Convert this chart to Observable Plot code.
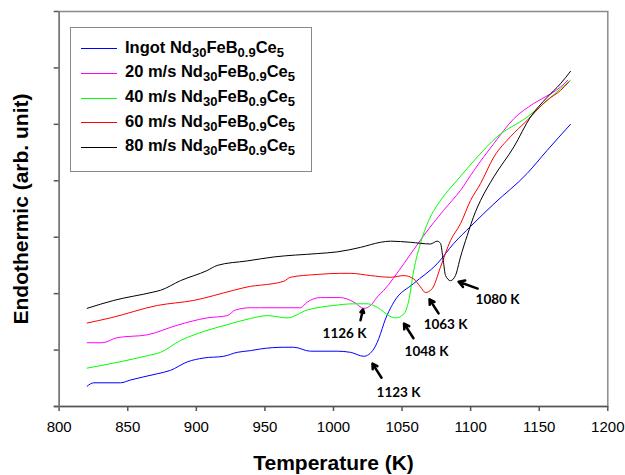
<!DOCTYPE html>
<html>
<head>
<meta charset="utf-8">
<script src="https://cdn.jsdelivr.net/npm/d3@7"></script>
<script src="https://cdn.jsdelivr.net/npm/@observablehq/plot@0.6"></script>
<style>
  body { margin: 0; background: #fff; }
  #wrap { position: relative; width: 625px; height: 475px; }
  #wrap svg { display: block; }
  #legend { position: absolute; left: 70px; top: 27px; width: 240px; height: 143px;
    border: 1px solid #888; background: #fff;
    font-family: "Liberation Sans", Arial, sans-serif; font-weight: bold; font-size: 16.5px; color: #000; }
  .sw { position: absolute; left: 10px; width: 36px; height: 0; border-top: 1px solid; }
  .lb { position: absolute; left: 54px; white-space: nowrap; line-height: 1; }
  .lb span.s { font-size: 13px; position: relative; top: 4px; }
</style>
</head>
<body>
<div id="wrap"><div id="legend"></div></div>
<script>
// ---------- data ----------
const seriesNames = ["Ingot", "20 m/s", "40 m/s", "60 m/s", "80 m/s"];
const seriesColors = ["#0000ff", "#ff00ff", "#00ff00", "#ff0000", "#000000"];

const tempIngot = [820.4, 825.2, 844.7, 852.0, 871.5, 881.1, 893.3, 905.4, 920.0, 929.8, 939.5, 946.8, 963.8, 971.0, 983.2, 1002.7, 1012.4, 1022.1, 1029.4, 1034.3, 1036.7, 1044.0, 1058.5, 1075.6, 1087.7, 1099.9, 1116.9, 1141.2, 1155.8, 1172.8];
const valIngot  = [0.36, 0.42, 0.42, 0.47, 0.58, 0.64, 0.79, 0.86, 0.89, 0.96, 0.99, 1.02, 1.05, 1.05, 0.98, 0.98, 0.96, 0.89, 1.02, 1.29, 1.47, 1.85, 2.18, 2.53, 2.89, 3.19, 3.59, 4.13, 4.54, 5.00];

const temp20 = [820.4, 831.4, 842.3, 864.2, 886.0, 907.9, 922.5, 928.5, 939.5, 946.8, 975.9, 980.8, 990.5, 1005.1, 1014.8, 1022.1, 1027.0, 1031.9, 1036.7, 1051.3, 1065.8, 1080.4, 1092.6, 1102.3, 1116.9, 1131.5, 1146.0, 1158.2, 1165.5, 1170.8];
const val20  = [1.13, 1.13, 1.22, 1.27, 1.44, 1.57, 1.61, 1.71, 1.75, 1.75, 1.75, 1.85, 1.93, 1.93, 1.85, 1.74, 1.79, 1.94, 2.06, 2.53, 3.03, 3.48, 3.83, 4.18, 4.66, 5.10, 5.37, 5.54, 5.66, 5.78];

const temp40 = [820.4, 864.2, 873.9, 888.4, 900.6, 922.5, 939.5, 951.7, 966.2, 980.8, 1000.2, 1014.8, 1024.6, 1034.3, 1039.0, 1045.2, 1051.3, 1054.9, 1058.5, 1063.4, 1069.5, 1078.0, 1090.2, 1104.8, 1119.3, 1141.2, 1153.3, 1165.5, 1172.8];
const val40  = [0.68, 0.90, 0.96, 1.17, 1.29, 1.45, 1.56, 1.61, 1.57, 1.71, 1.79, 1.82, 1.82, 1.72, 1.63, 1.57, 1.64, 1.88, 2.41, 2.89, 3.30, 3.65, 4.01, 4.42, 4.78, 5.13, 5.37, 5.63, 5.78];

const temp60 = [820.4, 837.4, 871.5, 898.1, 927.3, 939.5, 946.8, 963.8, 968.6, 988.1, 1005.1, 1012.4, 1027.0, 1041.6, 1051.3, 1058.5, 1063.4, 1067.1, 1072.0, 1078.0, 1085.3, 1092.6, 1099.9, 1107.2, 1116.9, 1129.0, 1141.2, 1155.8, 1165.5, 1171.6];
const val60  = [1.48, 1.57, 1.79, 1.88, 2.06, 2.13, 2.15, 2.22, 2.29, 2.34, 2.36, 2.36, 2.32, 2.29, 2.32, 2.26, 2.12, 2.02, 2.09, 2.47, 2.94, 3.24, 3.65, 3.95, 4.42, 4.78, 5.07, 5.43, 5.60, 5.75];

const temp80 = [820.4, 839.8, 869.0, 873.9, 888.4, 907.9, 915.2, 937.1, 956.5, 988.1, 1002.7, 1019.7, 1034.3, 1041.6, 1056.1, 1070.7, 1075.6, 1078.0, 1080.0, 1081.7, 1085.3, 1088.9, 1092.6, 1097.5, 1103.5, 1107.2, 1116.9, 1131.5, 1143.6, 1155.8, 1165.5, 1172.8];
const val80  = [1.74, 1.88, 2.03, 2.06, 2.23, 2.41, 2.50, 2.58, 2.65, 2.71, 2.74, 2.82, 2.91, 2.93, 2.91, 2.88, 2.93, 2.89, 2.59, 2.32, 2.23, 2.32, 2.65, 3.03, 3.45, 3.65, 4.07, 4.60, 5.13, 5.48, 5.72, 5.94];

const xTicks = [800, 850, 900, 950, 1000, 1050, 1100, 1150, 1200];
const yTicks = [0, 1, 2, 3, 4, 5, 6, 7];

// annotations: label text, label position, arrow tail -> head
const annLabels = ["1126 K", "1048 K", "1063 K", "1080 K", "1123 K"];
const annX  = [1008.0, 1067.8, 1081.7, 1119.6, 1047.4];
const annY  = [1.29, 0.98, 1.45, 1.90, 0.25];
const arrX1 = [1019.7, 1058.3, 1076.6, 1105.1, 1035.0];
const arrY1 = [1.53, 1.21, 1.65, 2.09, 0.51];
const arrX2 = [1021.5, 1051.4, 1070.0, 1091.2, 1028.4];
const arrY2 = [1.72, 1.47, 1.90, 2.21, 0.76];

const xTitle = "Temperature (K)";
const yTitle = "Endothermic (arb. unit)";

// ---------- build ----------
const temps = [tempIngot, temp20, temp40, temp60, temp80];
const vals = [valIngot, val20, val40, val60, val80];
const series = temps.map((t, i) => t.map((T, j) => ({T, v: vals[i][j]})));
const ann = annLabels.map((label, i) => ({label, x: annX[i], y: annY[i], x1: arrX1[i], y1: arrY1[i], x2: arrX2[i], y2: arrY2[i]}));

const chart = Plot.plot({
  width: 625,
  height: 475,
  marginLeft: 58.7,
  marginRight: 17.7,
  marginTop: 11,
  marginBottom: 69,
  style: {fontFamily: "'Liberation Sans', Arial, sans-serif", fontSize: "15px", color: "#000", background: "#fff"},
  x: {domain: [800, 1200]},
  y: {domain: [0, 7]},
  marks: [
    Plot.frame({stroke: "#8a8a8a", strokeWidth: 1.5}),
    Plot.axisX({ticks: xTicks, tickSize: 5, tickPadding: 10, tickFormat: d => String(d), label: null, stroke: "#555", strokeWidth: 1.5}),
    Plot.axisY({ticks: yTicks, tickSize: 5, tickFormat: () => "", label: null, stroke: "#555", strokeWidth: 1.5}),
    Plot.ruleY([0], {x1: 796.4, x2: 1200, stroke: "#555", strokeWidth: 1.5}),
    Plot.ruleX([800], {y1: -0.09, y2: 7, stroke: "#777", strokeWidth: 1.5}),
    ...series.map((s, i) => Plot.line(s, {x: "T", y: "v", stroke: seriesColors[i], strokeWidth: 1, curve: "monotone-x"})),
    Plot.arrow(ann, {x1: "x1", y1: "y1", x2: "x2", y2: "y2", stroke: "#000", strokeWidth: 2.5, headLength: 7}),
    Plot.text(ann, {x: "x", y: "y", text: "label", fontFamily: "Lato, 'Open Sans', sans-serif", fontWeight: "bold", fontSize: 13.5, fill: "#000"}),
    Plot.text([xTitle], {text: d => d, frameAnchor: "bottom", textAnchor: "middle", lineAnchor: "middle", dy: 57, fontSize: 21, fontWeight: "bold", fill: "#000"}),
    Plot.text([yTitle], {text: d => d, frameAnchor: "left", textAnchor: "middle", lineAnchor: "middle", dx: -37.7, rotate: -90, fontSize: 21, fontWeight: "bold", fill: "#000"})
  ]
});
document.getElementById("wrap").prepend(chart);

// legend
const legend = document.getElementById("legend");
const rowY = [20.3, 44.9, 69.5, 94.1, 118.7];
seriesNames.forEach((name, i) => {
  const sw = document.createElement("div");
  sw.className = "sw";
  sw.style.top = rowY[i] + "px";
  sw.style.borderTopColor = seriesColors[i];
  legend.appendChild(sw);
  const lb = document.createElement("div");
  lb.className = "lb";
  lb.style.top = (rowY[i] - 9.5) + "px";
  lb.innerHTML = name + ' Nd<span class="s">30</span>FeB<span class="s">0.9</span>Ce<span class="s">5</span>';
  legend.appendChild(lb);
});
</script>
</body>
</html>
